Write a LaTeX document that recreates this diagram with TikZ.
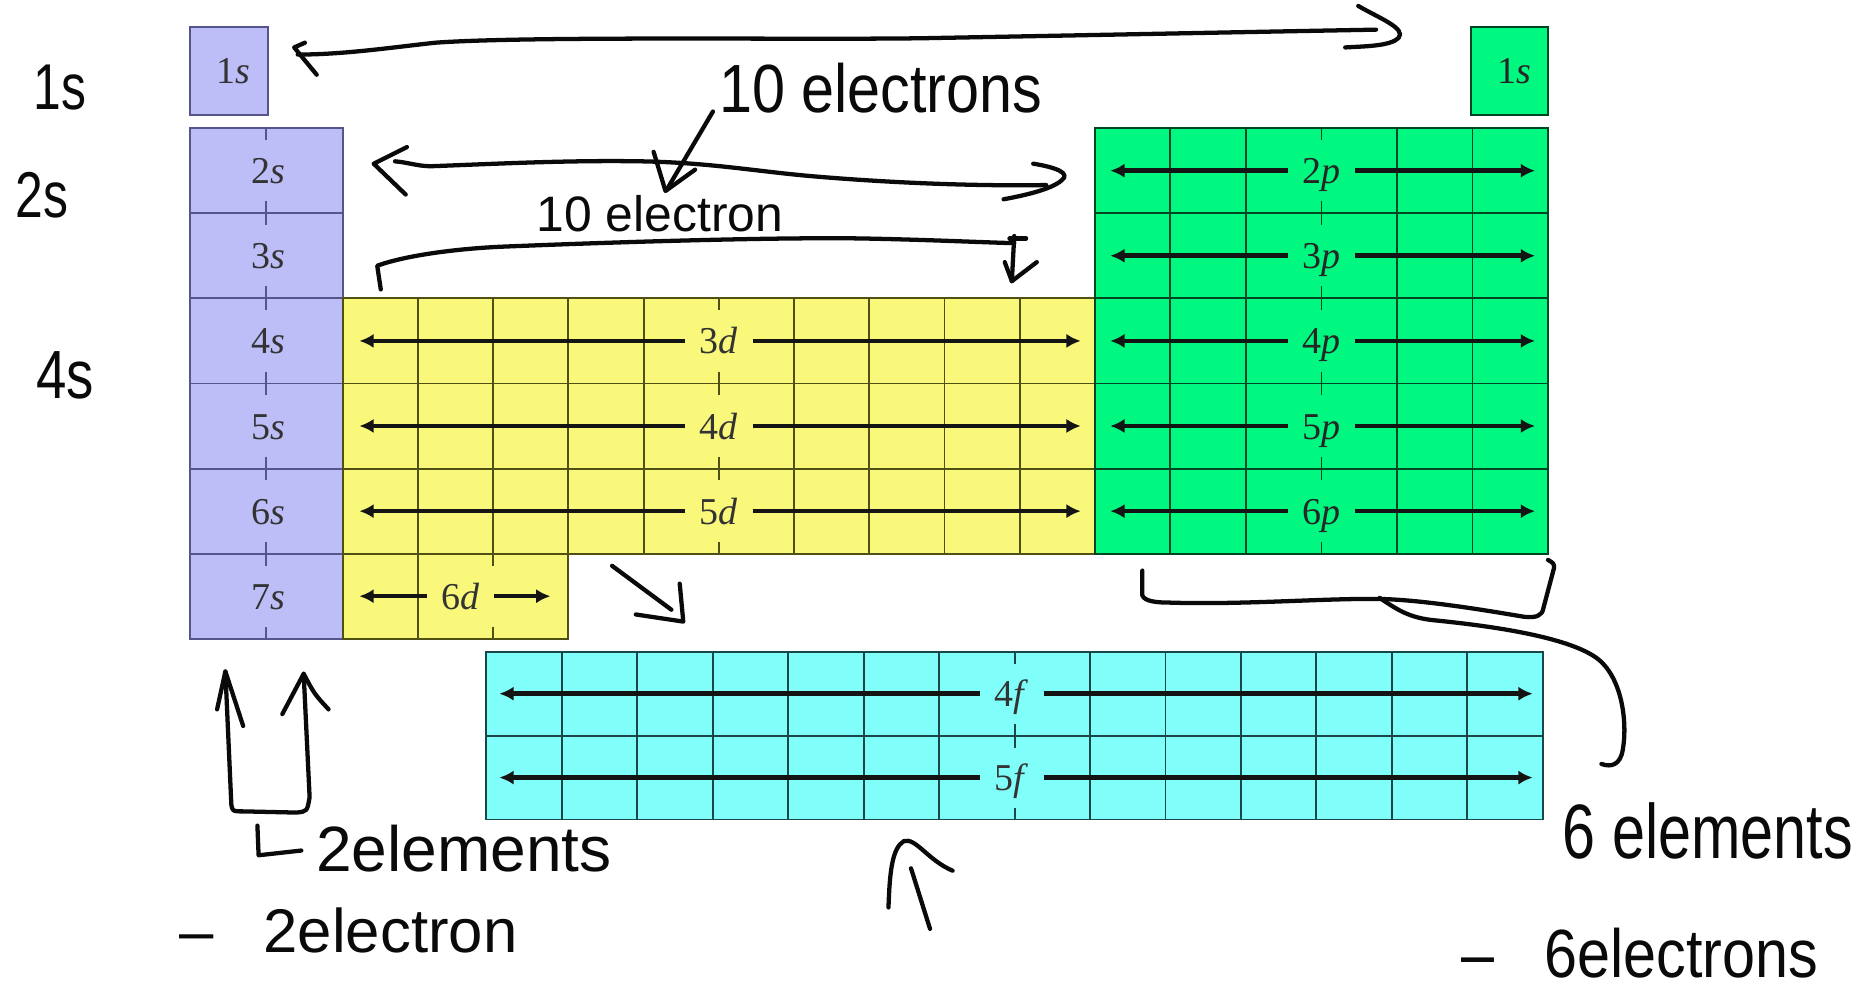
\documentclass[tikz,border=0pt]{standalone}
\usepackage{fontspec}
\setmainfont{Liberation Serif}
\newfontfamily\handfont{Liberation Sans}
\usetikzlibrary{arrows.meta}
\definecolor{sfill}{RGB}{189,189,248}
\definecolor{sline}{RGB}{85,85,140}
\definecolor{dfill}{RGB}{250,248,122}
\definecolor{dline}{RGB}{80,80,20}
\definecolor{pfill}{RGB}{0,248,128}
\definecolor{pline}{RGB}{0,70,35}
\definecolor{ffill}{RGB}{128,255,250}
\definecolor{fline}{RGB}{25,70,70}
\definecolor{ink}{RGB}{10,10,10}
\begin{document}
\begin{tikzpicture}[x=0.5pt,y=-0.5pt,
  hand/.style={draw=ink,line width=1.8pt,line cap=round,line join=round},
  htext/.style={text=ink,inner sep=0pt,anchor=base west},
  hfs/.style={font=\handfont\fontsize{#1}{#1}\selectfont},
  lab/.style={font=\fontsize{16}{16}\selectfont,text=black!80,inner xsep=6pt,inner ysep=0pt,text height=11pt,text depth=0pt},
  tarrow/.style={draw=black!92,line width=1.9pt,-{Latex[length=6pt,width=6pt]}},
  grids/.style={draw=sline,line width=0.8pt},
  gridd/.style={draw=dline,line width=0.8pt},
  gridp/.style={draw=pline,line width=0.8pt},
  gridf/.style={draw=fline,line width=0.8pt}
]
\useasboundingbox (0,0) rectangle (1568,840);
\fill[white] (0,0) rectangle (1568,840);

% ---------- s block ----------
\filldraw[fill=sfill,grids] (160,22.5) rectangle (226,97);
\filldraw[fill=sfill,grids] (160,108) rectangle (289,538.5);
\foreach \i in {1,...,5} \draw[grids] (160,{108+\i*71.75}) -- (289,{108+\i*71.75});
\foreach \i in {0,...,6} \draw[grids] (224.5,{max(108,108+\i*71.75-10)}) -- (224.5,{min(538.5,108+\i*71.75+10)});
\node[lab] (s1) at (197,59.75) {1\textit{s}};
\foreach \n [count=\i from 0] in {2,...,7} \node[lab] (s\n) at (226,{108+(\i+0.5)*71.75}) {\n\textit{s}};

% ---------- d block ----------
\filldraw[fill=dfill,gridd] (289,251.5) -- (923,251.5) -- (923,466.75) -- (479.2,466.75) -- (479.2,538.5) -- (289,538.5) -- cycle;
\foreach \j in {1,2,3,4,6,7,8,9} \draw[gridd] ({289+\j*63.4},251.5) -- ({289+\j*63.4},466.75);
\draw[gridd] (352.4,466.75) -- (352.4,538.5);
\draw[gridd] (289,323.25) -- (923,323.25);
\draw[gridd] (289,395) -- (923,395);
\draw[gridd] (289,466.75) -- (479.2,466.75);
\foreach \yy in {251.5,323.25,395,466.75} \draw[gridd] (606,{max(251.5,\yy-10)}) -- (606,{min(466.75,\yy+10)});
\draw[gridd] (415.8,466.75) -- (415.8,476.75);
\draw[gridd] (415.8,528.5) -- (415.8,538.5);

% ---------- p block ----------
\filldraw[fill=pfill,draw=pline,line width=0.8pt] (1240,22.5) rectangle (1305,97);
\node[lab,text=black!85] (s1b) at (1277,59.75) {1\textit{s}};
\filldraw[fill=pfill,gridp] (923,108) rectangle (1305,466.75);
\foreach \j in {1,2,4,5} \draw[gridp] ({923+\j*63.67},108) -- ({923+\j*63.67},466.75);
\foreach \i in {1,...,4} \draw[gridp] (923,{108+\i*71.75}) -- (1305,{108+\i*71.75});
\foreach \i in {0,...,5} \draw[gridp] (1114,{max(108,108+\i*71.75-10)}) -- (1114,{min(466.75,108+\i*71.75+10)});

% ---------- f block ----------
\filldraw[fill=ffill,gridf] (410,549.5) rectangle (1300.5,690.8);
\foreach \j in {1,...,6,8,9,10,11,12,13} \draw[gridf] ({410+\j*63.61},549.5) -- ({410+\j*63.61},690.8);
\draw[gridf] (410,620.15) -- (1300.5,620.15);
\foreach \yy in {549.5,620.15,690.8} \draw[gridf] (855.3,{max(549.5,\yy-10)}) -- (855.3,{min(690.8,\yy+10)});

% ---------- labels and arrows ----------
\foreach \n/\yy in {3/287.4,4/359.1,5/430.9} {
  \node[lab] (d\n) at (606,\yy) {\n\textit{d}};
  \coordinate (dl\n) at (303,\yy);
  \coordinate (dr\n) at (911,\yy);
  \draw[tarrow] (d\n.west) -- (dl\n);
  \draw[tarrow] (d\n.east) -- (dr\n);
}
\node[lab] (d6) at (388,502.6) {6\textit{d}};
\coordinate (dl6) at (303,502.6);
\coordinate (dr6) at (464,502.6);
\draw[tarrow] (d6.west) -- (dl6);
\draw[tarrow] (d6.east) -- (dr6);
\foreach \n/\yy in {2/143.9,3/215.6,4/287.4,5/359.1,6/430.9} {
  \node[lab,text=black!85] (p\n) at (1114,\yy) {\n\textit{p}};
  \coordinate (pl\n) at (936,\yy);
  \coordinate (pr\n) at (1294,\yy);
  \draw[tarrow] (p\n.west) -- (pl\n);
  \draw[tarrow] (p\n.east) -- (pr\n);
}
\foreach \n/\yy in {4/584.8,5/655.5} {
  \node[lab] (f\n) at (853,\yy) {\n\textit{f}};
  \coordinate (fl\n) at (421,\yy);
  \coordinate (fr\n) at (1292,\yy);
  \draw[tarrow] (f\n.west) -- (fl\n);
  \draw[tarrow] (f\n.east) -- (fr\n);
}

% ---------- handwriting: text ----------
\node[htext,hfs=21] (h1s) at (28,92) {\scalebox{1}[1.3]{1s}};
\node[htext,hfs=21] (h2s) at (13,183) {\scalebox{1}[1.3]{2s}};
\node[htext,hfs=23] (h4s) at (30,336) {\scalebox{1}[1.25]{4s}};
\node[htext,hfs=25] (h10e) at (606,95) {\scalebox{1}[1.15]{10 electrons}};
\node[htext,hfs=21] (h10b) at (452,195) {10 electron};
\node[htext,hfs=25] (h6el) at (1317,724) {\scalebox{1}[1.3]{6 elements}};
\node[htext,hfs=25] (h6ec) at (1232,824) {\scalebox{1}[1.15]{–\hspace{21pt}6electrons}};
\node[htext,hfs=27] (h2el) at (266,735) {2elements};
\node[htext,hfs=26] (h2ec) at (151,803) {–\hspace{21pt}2electron};

% ---------- handwriting: strokes ----------
% top double arrow (1s to 1s)
\draw[hand] (257,36) -- (248,40) -- (267,63);
\draw[hand] (251,46) .. controls (290,46) and (330,40) .. (367,36) .. controls (450,30) and (700,34) .. (790,32) .. controls (900,30) and (1050,27) .. (1160,25);
\draw[hand] (1145,5) .. controls (1162,15) and (1186,24) .. (1179,32) .. controls (1172,39) and (1150,39) .. (1134,40);
% 2s row double arrow
\draw[hand] (343,124) -- (315,138) -- (342,164);
\draw[hand] (333,136) .. controls (345,137) and (355,141) .. (367,140) .. controls (420,138) and (480,135) .. (540,136) .. controls (600,137) and (640,145) .. (690,149) .. controls (750,154) and (820,157) .. (882,156);
\draw[hand] (871,138) .. controls (890,141) and (903,146) .. (895,152) .. controls (886,160) and (862,165) .. (846,168);
% bracket over d block
\draw[hand] (321,244) -- (318,224) .. controls (340,216) and (380,210) .. (422,208) .. controls (520,204) and (650,200) .. (725,201) .. controls (780,202) and (820,204) .. (855,205);
\draw[hand] (851,201) -- (865,201);
\draw[hand] (855,199) -- (853,237);
\draw[hand] (847,221) -- (853,237) -- (874,221);
% pointer from "10 electrons"
\draw[hand] (601,94) -- (562,160);
\draw[hand] (551,128) -- (561,161) -- (586,143);
% arrow toward f block
\draw[hand] (516,477) -- (566,514);
\draw[hand] (536,518) -- (576,524) -- (573,492);
% bracket under p block and brace
\draw[hand] (963,481) -- (963,502) .. controls (965,507) and (975,508) .. (986,508) .. controls (1050,510) and (1120,504) .. (1166,505) .. controls (1200,506) and (1250,514) .. (1285,520) .. controls (1295,521) and (1300,519) .. (1301,513) -- (1310,479) .. controls (1310,475) .. (1305,472);
\draw[hand] (1163,504) .. controls (1178,514) and (1188,521) .. (1210,523) .. controls (1260,528) and (1320,537) .. (1345,554) .. controls (1368,570) and (1372,610) .. (1368,632) .. controls (1366,645) and (1358,647) .. (1350,644);
% U-shaped arrows under s block
\draw[hand] (190,566) -- (195,678) .. controls (196,684) .. (205,684) -- (250,685) .. controls (259,684) .. (261,672) -- (256,568);
\draw[hand] (183,598) -- (190,566) -- (205,612);
\draw[hand] (238,602) -- (256,568) .. controls (265,585) .. (277,598);
% L mark
\draw[hand] (217,696) -- (218,721) -- (254,717);
% up arrow under f block
\draw[hand] (749,765) .. controls (750,735) and (752,715) .. (762,709) .. controls (772,706) and (782,725) .. (803,734);
\draw[hand] (768,732) -- (784,783);
\end{tikzpicture}
\end{document}
